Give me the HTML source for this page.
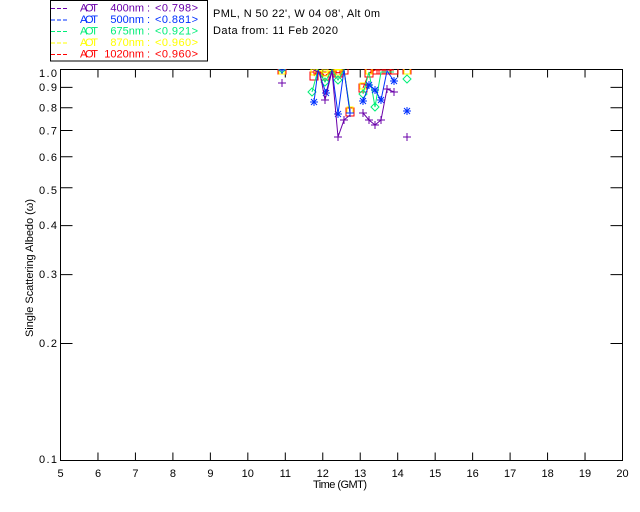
<!DOCTYPE html>
<html><head><meta charset="utf-8"><style>
html,body{margin:0;padding:0;background:#fff;}
svg{display:block;}
text{font-family:"Liberation Sans",sans-serif;font-size:11px;}
</style></head><body>
<svg width="640" height="512" viewBox="0 0 640 512" xmlns="http://www.w3.org/2000/svg">
<rect width="640" height="512" fill="#fff"/>
<!-- legend -->
<rect x="50.5" y="0.5" width="157" height="60.5" fill="#fff" stroke="#000" stroke-width="1"/>
<g stroke-width="1">
<line x1="51" y1="8.5" x2="67" y2="8.5" stroke="#6a00aa" stroke-dasharray="4,2"/>
<line x1="51" y1="20" x2="67" y2="20" stroke="#0030ff" stroke-dasharray="4,2"/>
<line x1="51" y1="31.5" x2="67" y2="31.5" stroke="#00ee77" stroke-dasharray="4,2"/>
<line x1="51" y1="43" x2="67" y2="43" stroke="#ffff00" stroke-dasharray="4,2"/>
<line x1="51" y1="54.5" x2="67" y2="54.5" stroke="#ff0000" stroke-dasharray="4,2"/>
</g>
<g>
<text x="80" y="11.5" fill="#6a00aa" textLength="18">AOT</text><text x="144" y="11.5" fill="#6a00aa" text-anchor="end">400nm</text><text x="147" y="11.5" fill="#6a00aa">:</text><text x="155" y="11.5" fill="#6a00aa" textLength="43">&lt;0.798&gt;</text>
<text x="80" y="23" fill="#0030ff" textLength="18">AOT</text><text x="144" y="23" fill="#0030ff" text-anchor="end">500nm</text><text x="147" y="23" fill="#0030ff">:</text><text x="155" y="23" fill="#0030ff" textLength="43">&lt;0.881&gt;</text>
<text x="80" y="34.5" fill="#00ee77" textLength="18">AOT</text><text x="144" y="34.5" fill="#00ee77" text-anchor="end">675nm</text><text x="147" y="34.5" fill="#00ee77">:</text><text x="155" y="34.5" fill="#00ee77" textLength="43">&lt;0.921&gt;</text>
<text x="80" y="46" fill="#ffff00" textLength="18">AOT</text><text x="144" y="46" fill="#ffff00" text-anchor="end">870nm</text><text x="147" y="46" fill="#ffff00">:</text><text x="155" y="46" fill="#ffff00" textLength="43">&lt;0.960&gt;</text>
<text x="80" y="57.5" fill="#ff0000" textLength="18">AOT</text><text x="144" y="57.5" fill="#ff0000" text-anchor="end">1020nm</text><text x="147" y="57.5" fill="#ff0000">:</text><text x="155" y="57.5" fill="#ff0000" textLength="43">&lt;0.960&gt;</text>
</g>
<!-- header -->
<text x="213" y="17" textLength="167">PML, N 50 22', W 04 08', Alt 0m</text>
<text x="213" y="34" textLength="125">Data from: 11 Feb 2020</text>

<!-- frame -->
<rect x="60.5" y="69.5" width="562" height="391" fill="none" stroke="#000" stroke-width="1"/>
<!-- x ticks -->
<g stroke="#000" stroke-width="1">
<path d="M97.97 460.5v-8M135.43 460.5v-8M172.9 460.5v-8M210.37 460.5v-8M247.83 460.5v-8M285.3 460.5v-8M322.77 460.5v-8M360.23 460.5v-8M397.7 460.5v-8M435.17 460.5v-8M472.63 460.5v-8M510.1 460.5v-8M547.57 460.5v-8M585.03 460.5v-8"/>
<path d="M97.97 69.5v8M135.43 69.5v8M172.9 69.5v8M210.37 69.5v8M247.83 69.5v8M285.3 69.5v8M322.77 69.5v8M360.23 69.5v8M397.7 69.5v8M435.17 69.5v8M472.63 69.5v8M510.1 69.5v8M547.57 69.5v8M585.03 69.5v8"/>
<!-- y ticks: 0.2..0.9 -->
<path d="M60.5 343.5h12M60.5 274.6h12M60.5 225.6h12M60.5 187.7h12M60.5 156.7h12M60.5 130.5h12M60.5 107.8h12M60.5 87.4h12"/>
<path d="M622.5 343.5h-12M622.5 274.6h-12M622.5 225.6h-12M622.5 187.7h-12M622.5 156.7h-12M622.5 130.5h-12M622.5 107.8h-12M622.5 87.4h-12"/>
</g>
<!-- x labels -->
<g text-anchor="middle">
<text x="60.5" y="477">5</text><text x="98" y="477">6</text><text x="135.4" y="477">7</text><text x="172.9" y="477">8</text><text x="210.4" y="477">9</text><text x="247.8" y="477">10</text><text x="285.3" y="477">11</text><text x="322.8" y="477">12</text><text x="360.2" y="477">13</text><text x="397.7" y="477">14</text><text x="435.2" y="477">15</text><text x="472.6" y="477">16</text><text x="510.1" y="477">17</text><text x="547.6" y="477">18</text><text x="585" y="477">19</text><text x="622.5" y="477">20</text>
<text x="340" y="488" textLength="54">Time (GMT)</text>
</g>
<!-- y labels -->
<g text-anchor="end">
<text x="57" y="77" textLength="18">1.0</text>
<text x="57" y="91" textLength="18">0.9</text>
<text x="57" y="111.5" textLength="18">0.8</text>
<text x="57" y="134.5" textLength="18">0.7</text>
<text x="57" y="161" textLength="18">0.6</text>
<text x="57" y="194" textLength="18">0.5</text>
<text x="57" y="229" textLength="18">0.4</text>
<text x="57" y="278" textLength="18">0.3</text>
<text x="57" y="347" textLength="18">0.2</text>
<text x="57" y="463" textLength="18">0.1</text>
</g>
<text transform="translate(33,268) rotate(-90)" text-anchor="middle" textLength="138">Single Scattering Albedo (ω)</text>

<clipPath id="pc"><rect x="60.5" y="69" width="562" height="392"/></clipPath>
<g clip-path="url(#pc)" fill="none" stroke-width="1">
<!-- red series -->
<g stroke="#ff0000">
<polyline points="314,76 318,70 325,76 332,70 338,73 344,70 350,112"/>
<polyline points="363,88 369,73 375,70 381,70 387,70 394,70"/>
<path d="M278,66h8v8h-8zM310,72h8v8h-8zM314,66h8v8h-8zM321,72h8v8h-8zM328,66h8v8h-8zM334,69h8v8h-8zM340,66h8v8h-8zM346,108h8v8h-8zM359,84h8v8h-8zM365,69h8v8h-8zM371,66h8v8h-8zM377,66h8v8h-8zM383,66h8v8h-8zM390,66h8v8h-8zM403,66h8v8h-8z"/>
</g>
<!-- yellow -->
<g stroke="#ffff00">
<polyline points="314,72 318,70 325,73 332,70 338,70 344,70 350,110"/>
<path d="M279,68h6v6h-6zM311,69h6v6h-6zM322,70h6v6h-6zM335,69h6v6h-6zM347,107h6v6h-6zM360,83h6v6h-6zM366,68h6v6h-6zM404,68h6v6h-6z"/>
</g>
<!-- green -->
<g stroke="#00ee77">
<polyline points="312,92 318,70 325,82 332,70 338,80 344,70 350,110"/>
<polyline points="363,94 369,72 375,107 381,72 387,72 394,72"/>
<path d="M282,67l3,3l-3,3l-3,-3zM312,88l4,4l-4,4l-4,-4zM325,78l4,4l-4,4l-4,-4zM338,76l4,4l-4,4l-4,-4zM363,90l4,4l-4,4l-4,-4zM375,103l4,4l-4,4l-4,-4zM407,75l4,4l-4,4l-4,-4z"/>
</g>
<!-- blue -->
<g stroke="#0030ff">
<polyline points="314,102 318,70 326,93 332,70 338,114 344,70 350,113"/>
<polyline points="363,101 369,85 375,90 381,100 387,71 394,81"/>
<path d="M278,70h8M282,66v8M310,102h8M314,98v8M311,99l6,6M317,99l-6,6M322,93h8M326,89v8M323,90l6,6M329,90l-6,6M334,114h8M338,110v8M335,111l6,6M341,111l-6,6M346,113h8M350,109v8M359,101h8M363,97v8M360,98l6,6M366,98l-6,6M365,85h8M369,81v8M366,82l6,6M372,82l-6,6M371,90h8M375,86v8M372,87l6,6M378,87l-6,6M377,100h8M381,96v8M378,97l6,6M384,97l-6,6M390,81h8M394,77v8M391,78l6,6M397,78l-6,6M403,111h8M407,107v8M404,108l6,6M410,108l-6,6"/>
</g>
<!-- purple -->
<g stroke="#6a00aa">
<polyline points="314,70 320,73 325,100 332,71 338,137 344,120 350,115"/>
<polyline points="363,113 369,120 375,125 381,120 387,89 394,92"/>
<path d="M278,83h8M282,79v8M321,100h8M325,96v8M334,137h8M338,133v8M340,120h8M344,116v8M359,113h8M363,109v8M365,120h8M369,116v8M371,125h8M375,121v8M377,120h8M381,116v8M383,89h8M387,85v8M390,92h8M394,88v8M403,137h8M407,133v8"/>
</g>
</g>
</svg>
</body></html>
